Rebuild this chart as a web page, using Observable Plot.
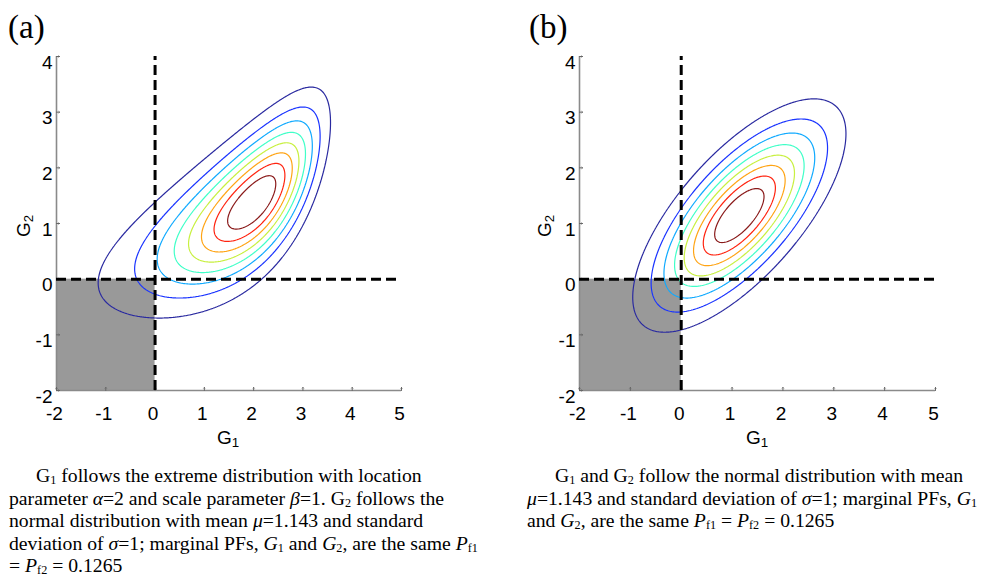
<!DOCTYPE html>
<html>
<head>
<meta charset="utf-8">
<script src="https://cdn.jsdelivr.net/npm/d3@7"></script>
<script src="https://cdn.jsdelivr.net/npm/@observablehq/plot@0.6"></script>
<style>
  html, body { margin: 0; padding: 0; background: #fff; }
  body { width: 984px; height: 578px; overflow: hidden; position: relative; }
  .abs { position: absolute; }
  .panelLabel { font-family: "Liberation Serif", "Times New Roman", serif; font-size: 33px; line-height: 33px; color: #000; }
  .axlab { font-family: "Liberation Sans Narrow", "Liberation Sans", Arial, sans-serif; font-size: 19px; line-height: 19px; color: #000; white-space: nowrap; }
  .axlab sub { font-size: 0.7em; vertical-align: -0.25em; line-height: 0; }
  .cap { font-family: "Liberation Serif", "Times New Roman", serif; font-size: 19.7px; line-height: 22.5px; color: #000; white-space: nowrap; }
  .cap sub { font-size: 0.62em; vertical-align: -0.2em; line-height: 0; font-style: normal; }
  .cap i sub { font-style: normal; }
  svg g[aria-label="x-axis tick label"], svg g[aria-label="y-axis tick label"] {
    font-size: 19px; font-family: "Liberation Sans Narrow", "Liberation Sans", Arial, sans-serif; fill: #000;
  }
</style>
</head>
<body>
<script>
// ---------- data ----------
const panels = ["(a)", "(b)"];
const xDomain = [-2, 5];
const yDomain = [-2, 4];
const xTicks = [-2, -1, 0, 1, 2, 3, 4, 5];
const yTicks = [-2, -1, 0, 1, 2, 3, 4];
const limitStates = [0];                 // G1 = 0 and G2 = 0
const failureG1 = [-2, 0];               // shaded failure region (G1 range)
const failureG2 = [-2, 0];               // shaded failure region (G2 range)
const evLocation = [2];                  // alpha (panel a, G1)
const evScale = [1];                     // beta  (panel a, G1)
const normalMean = [1.143];              // mu
const normalSd = [1];                    // sigma
const correlation = [0.7, 0.7];          // dependence in panels (a), (b)
const levelFractions = [1/9, 2/9, 3/9, 4/9, 5/9, 6/9, 7/9, 8/9];
const levelColors = ["#2a2aa0", "#1a34ff", "#10aaff", "#40ffc8", "#c8f040", "#ffa414", "#ff2410", "#8a1a1a"];

// ---------- helpers ----------
function invNorm(p) {
  const a=[-3.969683028665376e+01,2.209460984245205e+02,-2.759285104469687e+02,1.383577518672690e+02,-3.066479806614716e+01,2.506628277459239e+00];
  const b=[-5.447609879822406e+01,1.615858368580409e+02,-1.556989798598866e+02,6.680131188771972e+01,-1.328068155288572e+01];
  const c=[-7.784894002430293e-03,-3.223964580411365e-01,-2.400758277161838e+00,-2.549671010584019e+00,4.374664141464968e+00,2.938163982698783e+00];
  const d=[7.784695709041462e-03,3.224671290700398e-01,2.445134137142996e+00,3.754408661907416e+00];
  const plow = 0.02425;
  if (p < plow) {
    const q = Math.sqrt(-2 * Math.log(p));
    return (((((c[0]*q+c[1])*q+c[2])*q+c[3])*q+c[4])*q+c[5]) / ((((d[0]*q+d[1])*q+d[2])*q+d[3])*q+1);
  }
  if (p <= 1 - plow) {
    const q = p - 0.5, r = q*q;
    return (((((a[0]*r+a[1])*r+a[2])*r+a[3])*r+a[4])*r+a[5])*q / (((((b[0]*r+b[1])*r+b[2])*r+b[3])*r+b[4])*r+1);
  }
  const q = Math.sqrt(-2 * Math.log(1 - p));
  return -(((((c[0]*q+c[1])*q+c[2])*q+c[3])*q+c[4])*q+c[5]) / ((((d[0]*q+d[1])*q+d[2])*q+d[3])*q+1);
}
function copula(z1, z2, r) {
  const k = 1 - r * r;
  return Math.exp(-(r*r*(z1*z1 + z2*z2) - 2*r*z1*z2) / (2*k)) / Math.sqrt(k);
}
const phi = z => Math.exp(-z*z/2) / Math.sqrt(2*Math.PI);

// panel (a): G1 ~ extreme value (minimum type), G2 ~ normal, Gaussian dependence
function densityA(x, y) {
  const t = (x - evLocation[0]) / evScale[0];
  const et = Math.exp(t);
  const f1 = Math.exp(t - et) / evScale[0];
  const s = Math.exp(-et);            // 1 - F1
  const u = -Math.expm1(-et);         // F1
  const z1 = u < 0.5 ? invNorm(u) : -invNorm(s);
  const z2 = (y - normalMean[0]) / normalSd[0];
  return copula(z1, z2, correlation[0]) * f1 * phi(z2) / normalSd[0];
}
// panel (b): G1, G2 ~ normal, Gaussian dependence
function densityB(x, y) {
  const z1 = (x - normalMean[0]) / normalSd[0];
  const z2 = (y - normalMean[0]) / normalSd[0];
  return copula(z1, z2, correlation[1]) * phi(z1) * phi(z2) / (normalSd[0] * normalSd[0]);
}
function maxOf(f) {
  let m = 0;
  const nx = 351, ny = 301;
  for (let i = 0; i < nx; i++) {
    const x = xDomain[0] + (xDomain[1] - xDomain[0]) * i / (nx - 1);
    for (let j = 0; j < ny; j++) {
      const y = yDomain[0] + (yDomain[1] - yDomain[0]) * j / (ny - 1);
      const v = f(x, y);
      if (v > m) m = v;
    }
  }
  return m;
}

const fontSans = '"Liberation Sans Narrow", "Liberation Sans", Arial, sans-serif';

function panel(density, geom) {
  const peak = maxOf(density);
  const contours = levelFractions.map((fr, i) => Plot.contour({
    value: density,
    x1: xDomain[0], x2: xDomain[1], y1: yDomain[0], y2: yDomain[1],
    thresholds: [peak * fr],
    stroke: levelColors[i],
    strokeWidth: 1.2,
    fill: "none",
    pixelSize: 1
  }));
  return Plot.plot({
    width: geom.width, height: geom.height,
    marginLeft: geom.left, marginRight: geom.right, marginTop: geom.top, marginBottom: geom.bottom,
    x: {domain: xDomain},
    y: {domain: yDomain},
    style: {fontFamily: fontSans, fontSize: "19px", color: "#000", background: "transparent", overflow: "visible"},
    marks: [
      Plot.rect([0], {x1: failureG1[0], x2: failureG1[1], y1: failureG2[0], y2: failureG2[1], fill: "#999999"}),
      ...contours,
      Plot.ruleX([xDomain[0]], {stroke: "#8a8a8a", strokeWidth: 1.6}),
      Plot.ruleY([yDomain[0]], {stroke: "#8a8a8a", strokeWidth: 1.6}),
      Plot.vector(xTicks, {x: d => d, y: yDomain[0], length: 3, rotate: 0, anchor: "start", stroke: "#666", strokeWidth: 1}),
      Plot.vector(yTicks, {x: xDomain[0], y: d => d, length: 3, rotate: 90, anchor: "start", stroke: "#666", strokeWidth: 1}),
      Plot.ruleY(limitStates, {x1: xDomain[0], x2: xDomain[1], stroke: "#000", strokeWidth: 3, strokeDasharray: "10,5"}),
      Plot.ruleX(limitStates, {y1: yDomain[0], y2: yDomain[1], stroke: "#000", strokeWidth: 3, strokeDasharray: "10,5"}),
      Plot.axisX({ticks: xTicks, tickSize: 0, tickPadding: 16, label: null, tickFormat: d => String(d), dx: -2, fontSize: 19, fill: "#000"}),
      Plot.axisY({ticks: yTicks, tickSize: 0, tickPadding: 4, label: null, tickFormat: d => String(d), dy: 6, fontSize: 19, fill: "#000"})
    ]
  });
}

function place(el, left, top) {
  el.style.position = "absolute";
  el.style.left = left + "px";
  el.style.top = top + "px";
  document.body.appendChild(el);
}

const svgA = panel(densityA, {width: 470, height: 430, left: 56, right: 69, top: 56, bottom: 40});
place(svgA, 0, 0);
const svgB = panel(densityB, {width: 470, height: 430, left: 59, right: 55, top: 56, bottom: 40});
place(svgB, 520, 0);

function html(cls, content, left, top, extra) {
  const d = document.createElement("div");
  d.className = "abs " + cls;
  d.innerHTML = content;
  d.style.left = left + "px";
  d.style.top = top + "px";
  if (extra) Object.assign(d.style, extra);
  document.body.appendChild(d);
  return d;
}

// panel labels
html("panelLabel", panels[0], 8, 11);
html("panelLabel", panels[1], 529, 11);

// axis titles
html("axlab", "G<sub>1</sub>", 228, 428, {transform: "translateX(-50%)"});
html("axlab", "G<sub>1</sub>", 757, 428, {transform: "translateX(-50%)"});
html("axlab", "G<sub>2</sub>", 23, 226, {transform: "translate(-50%,-50%) rotate(-90deg)", transformOrigin: "center"});
html("axlab", "G<sub>2</sub>", 544, 226, {transform: "translate(-50%,-50%) rotate(-90deg)", transformOrigin: "center"});

// captions
html("cap",
  '<div style="padding-left:27px">G<sub>1</sub> follows the extreme distribution with location</div>' +
  '<div>parameter <i>α</i>=2 and scale parameter <i>β</i>=1. G<sub>2</sub> follows the</div>' +
  '<div>normal distribution with mean <i>μ</i>=1.143 and standard</div>' +
  '<div>deviation of <i>σ</i>=1; marginal PFs, <i>G</i><sub>1</sub> and <i>G</i><sub>2</sub>, are the same <i>P</i><sub>f1</sub></div>' +
  '<div>= <i>P</i><sub>f2</sub> = 0.1265</div>',
  9, 464);
html("cap",
  '<div style="padding-left:28px">G<sub>1</sub> and G<sub>2</sub> follow the normal distribution with mean</div>' +
  '<div><i>μ</i>=1.143 and standard deviation of <i>σ</i>=1; marginal PFs, <i>G</i><sub>1</sub></div>' +
  '<div>and <i>G</i><sub>2</sub>, are the same <i>P</i><sub>f1</sub> = <i>P</i><sub>f2</sub> = 0.1265</div>',
  527, 464);
</script>
</body>
</html>
